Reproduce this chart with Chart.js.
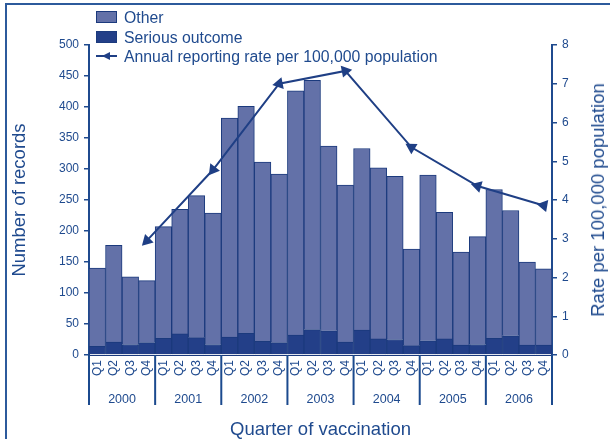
<!DOCTYPE html>
<html>
<head>
<meta charset="utf-8">
<script src="https://cdn.jsdelivr.net/npm/chart.js@4"></script>
<style>
  html,body{margin:0;padding:0;background:#fff;}
  #wrap{position:relative;width:610px;height:439px;overflow:hidden;font-family:"Liberation Sans",Arial,sans-serif;}
  #frameL{position:absolute;left:5px;top:3px;width:2px;height:436px;background:#2c5a9c;}
  #frameT{position:absolute;left:5px;top:3px;width:605px;height:2px;background:#2c5a9c;}
  canvas{position:absolute;left:0;top:0;}
  .leg{position:absolute;left:96px;font-size:15.8px;color:#1f4a8e;height:19px;line-height:19px;white-space:nowrap;}
  .leg .box{display:inline-block;width:19px;height:10px;border:1px solid #1b3a7d;vertical-align:middle;margin-right:7px;position:relative;top:-2px;}
  .leg .ln{display:inline-block;width:21px;height:10px;vertical-align:middle;margin-right:7px;position:relative;top:-2px;}
  #rtitle{position:absolute;left:598px;top:200px;transform:translate(-50%,-50%) rotate(-90deg);font-size:18.5px;color:#1f4a8e;white-space:nowrap;}
</style>
</head>
<body>
<div id="wrap">
  <canvas id="c" width="610" height="439"></canvas>
  <div id="frameL"></div><div id="frameT"></div>
  <div class="leg" style="top:8px"><span class="box" style="background:#6371a8"></span>Other</div>
  <div class="leg" style="top:28px"><span class="box" style="background:#233f88"></span>Serious outcome</div>
  <div class="leg" style="top:47px"><svg class="ln" viewBox="0 0 21 10"><line x1="0" y1="5" x2="21" y2="5" stroke="#1f3f85" stroke-width="2"/><polygon points="6,5 14,1 14,9" fill="#1f3f85"/></svg>Annual reporting rate per 100,000 population</div>
  <div id="rtitle">Rate per 100,000 population</div>
</div>
<script>
const years = ['2000','2001','2002','2003','2004','2005','2006'];
const quarters = ['Q1','Q2','Q3','Q4'];
const categories = years.flatMap(y => quarters.map(q => y + ' ' + q));
const quarterLabels = years.flatMap(() => quarters);

const seriousOutcome = [14,21,17,20, 27,34,28,17, 29,35,22,20, 32,41,39,21, 40,26,25,15, 23,26,16,17, 27,31,16,16];
const otherRecords   = [126,156,109,100, 180,201,229,212, 353,366,289,272, 394,402,298,253, 293,276,263,156, 267,204,150,174, 240,202,134,123];
// annual rate per 100,000 plotted at Q4 of each year
const annualRate = [2.95, 4.78, 7.0, 7.33, 5.36, 4.36, 3.86];
const markerRotation = [225, 217, 259, 319, 301, 286, 160];

const leftTicks = {min:0, max:500, step:50};
const rightTicks = {min:0, max:8, step:1};

const rateData = categories.map((_, i) => (i % 4 === 3) ? annualRate[Math.floor(i/4)] : null);
const rotData = categories.map((_, i) => (i % 4 === 3) ? markerRotation[Math.floor(i/4)] : 0);

const NAVY = '#1f4a8e';
const FONT = '"Liberation Sans", Arial, sans-serif';

const separators = {
  id: 'separators',
  afterDraw(chart) {
    const xs = chart.scales.x;
    const ctx = chart.ctx;
    const n = years.length;
    ctx.save();
    ctx.strokeStyle = '#1b4a8e';
    ctx.lineWidth = 2;
    for (let i = 0; i <= n; i++) {
      const px = xs.left + i * (xs.right - xs.left) / n;
      ctx.beginPath();
      ctx.moveTo(px, xs.top);
      ctx.lineTo(px, 405);
      ctx.stroke();
    }
    ctx.restore();
  }
};

new Chart(document.getElementById('c'), {
  data: {
    labels: categories,
    datasets: [
      {
        type: 'line',
        label: 'Annual reporting rate per 100,000 population',
        data: rateData,
        yAxisID: 'y2',
        xAxisID: 'x',
        spanGaps: true,
        borderColor: '#1f3f85',
        backgroundColor: '#1f3f85',
        borderWidth: 2,
        pointStyle: 'triangle',
        pointRadius: 5,
        pointRotation: rotData,
        pointBackgroundColor: '#1f3f85',
        pointBorderColor: '#1f3f85',
        tension: 0,
        order: 0
      },
      {
        type: 'bar',
        label: 'Serious outcome',
        data: seriousOutcome,
        yAxisID: 'y',
        xAxisID: 'x',
        stack: 's',
        backgroundColor: '#233f88',
        borderColor: '#1b3a7d',
        borderWidth: 1,
        barPercentage: 1,
        categoryPercentage: 1,
        order: 1
      },
      {
        type: 'bar',
        label: 'Other',
        data: otherRecords,
        yAxisID: 'y',
        xAxisID: 'x',
        stack: 's',
        backgroundColor: '#6371a8',
        borderColor: '#1b3a7d',
        borderWidth: 1,
        barPercentage: 1,
        categoryPercentage: 1,
        order: 1
      }
    ]
  },
  options: {
    responsive: false,
    animation: false,
    layout: { padding: { left: 6, right: 0, top: 45, bottom: 0 } },
    plugins: { legend: { display: false }, tooltip: { enabled: false } },
    scales: {
      x: {
        type: 'category',
        position: 'bottom',
        stacked: true,
        labels: quarterLabels,
        grid: { display: false, drawTicks: false },
        border: { display: true, color: '#1b3a7d', width: 1 },
        ticks: { minRotation: 90, maxRotation: 90, autoSkip: false, padding: 5, color: NAVY, font: { family: FONT, size: 12 } },
        afterFit(s) { s.height = 30; }
      },
      xYear: {
        type: 'category',
        position: 'bottom',
        labels: years,
        offset: true,
        grid: { display: false, drawTicks: false },
        border: { display: false },
        ticks: { padding: 7, color: NAVY, font: { family: FONT, size: 12.5 } },
        title: { display: true, text: 'Quarter of vaccination', color: NAVY, font: { family: FONT, size: 18.5 }, padding: { top: 0, bottom: -2 } },
        afterFit(s) { s.height = 54; }
      },
      y: {
        type: 'linear',
        position: 'left',
        stacked: true,
        min: leftTicks.min, max: leftTicks.max,
        ticks: { stepSize: leftTicks.step, padding: 5, color: NAVY, font: { family: FONT, size: 12 } },
        grid: { drawOnChartArea: false, drawTicks: true, tickLength: 5, color: NAVY, lineWidth: 1.5 },
        border: { display: true, color: NAVY, width: 2 },
        title: { display: true, text: 'Number of records', color: NAVY, font: { family: FONT, size: 18.5 }, padding: { top: 3, bottom: 3 } },
        afterFit(s) { s.width = 83; }
      },
      y2: {
        type: 'linear',
        position: 'right',
        min: rightTicks.min, max: rightTicks.max,
        ticks: { stepSize: rightTicks.step, padding: 5, color: NAVY, font: { family: FONT, size: 12 } },
        grid: { drawOnChartArea: false, drawTicks: true, tickLength: 5, color: NAVY, lineWidth: 1.5 },
        border: { display: true, color: NAVY, width: 2 },
        afterFit(s) { s.width = 58; }
      }
    }
  },
  plugins: [separators]
});
</script>
</body>
</html>
